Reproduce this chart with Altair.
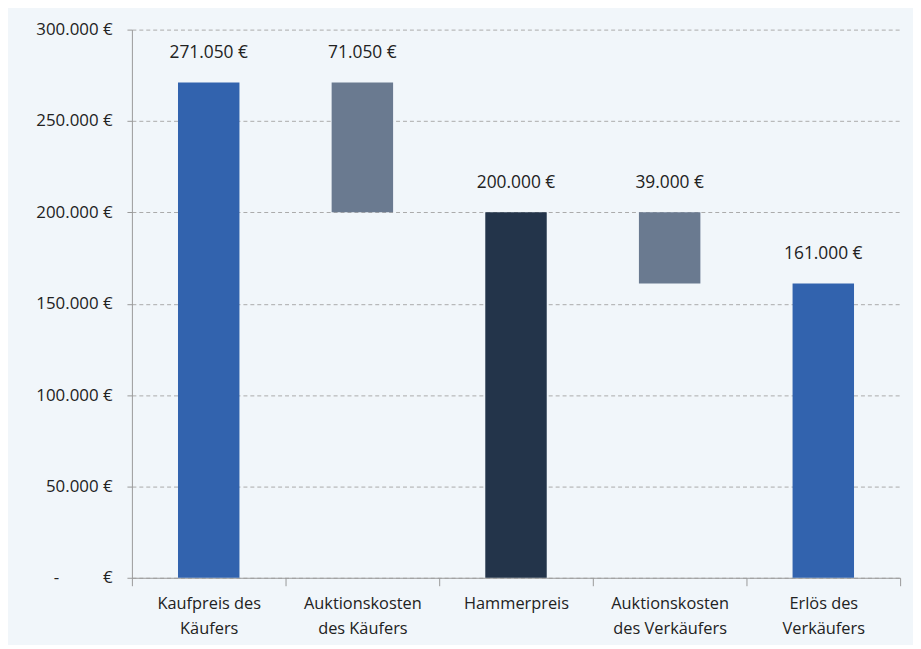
import altair as alt
import pandas as pd

categories = ["Kaufpreis des|Käufers", "Auktionskosten|des Käufers", "Hammerpreis",
              "Auktionskosten|des Verkäufers", "Erlös des|Verkäufers"]
bar_start = [0, 200000, 0, 161000, 0]
bar_end = [271050, 271050, 200000, 200000, 161000]
label_values = [271050, 71050, 200000, 39000, 161000]
bar_colors = ["#3263ae", "#6a7a90", "#23344a", "#6a7a90", "#3263ae"]

def fmt_eur(v):
    return f"{v:,}".replace(",", ".") + "\u00a0€"

df = pd.DataFrame({
    "cat": categories,
    "start": bar_start,
    "end": bar_end,
    "label": [fmt_eur(v) for v in label_values],
    "color": bar_colors,
})

zero_label = "-" + "\u00a0" * 10 + "€"

x = alt.X("cat:N", sort=None, title=None,
          scale=alt.Scale(paddingInner=0, paddingOuter=0),
          axis=alt.Axis(labelExpr="isValid(datum.value) ? split(datum.value, '|') : ''",
                        labelAngle=0,
                        labelFontSize=16.5, labelColor="#222", labelPadding=10,
                        labelLineHeight=25, tickBand="extent", tickSize=8,
                        tickColor="#999", domainColor="#999", labelFont="Open Sans"))

bars = alt.Chart(df).mark_bar(width=alt.RelativeBandSize(0.4)).encode(
    x=x,
    y=alt.Y("start:Q", title=None,
            scale=alt.Scale(domain=[0, 300000], nice=False),
            axis=alt.Axis(values=[0, 50000, 100000, 150000, 200000, 250000, 300000],
                          labelExpr=f"datum.value == 0 ? '{zero_label}' : format(datum.value/1000, '.0f') + '.000\u00a0€'",
                          labelFontSize=17, labelColor="#222", labelFont="Open Sans",
                          gridDash=[4, 3], gridColor="#aaa", domainColor="#999",
                          tickColor="#999", tickSize=5, labelPadding=15)),
    y2="end:Q",
    color=alt.Color("color:N", scale=None),
)

labels = alt.Chart(df).mark_text(dy=-30, fontSize=17.5, color="#222", font="Open Sans").encode(
    x=alt.X("cat:N", sort=None),
    y="end:Q",
    text="label:N",
)

chart = alt.layer(bars, labels).properties(
    width=775, height=553,
    background="#f1f6fa",
    padding={"left": 125, "top": 19, "right": 13, "bottom": 65},
    autosize=alt.AutoSizeParams(type="none"),
).configure_view(stroke=None)

chart.save("out.html", embed_options={"renderer": "svg", "actions": False})
